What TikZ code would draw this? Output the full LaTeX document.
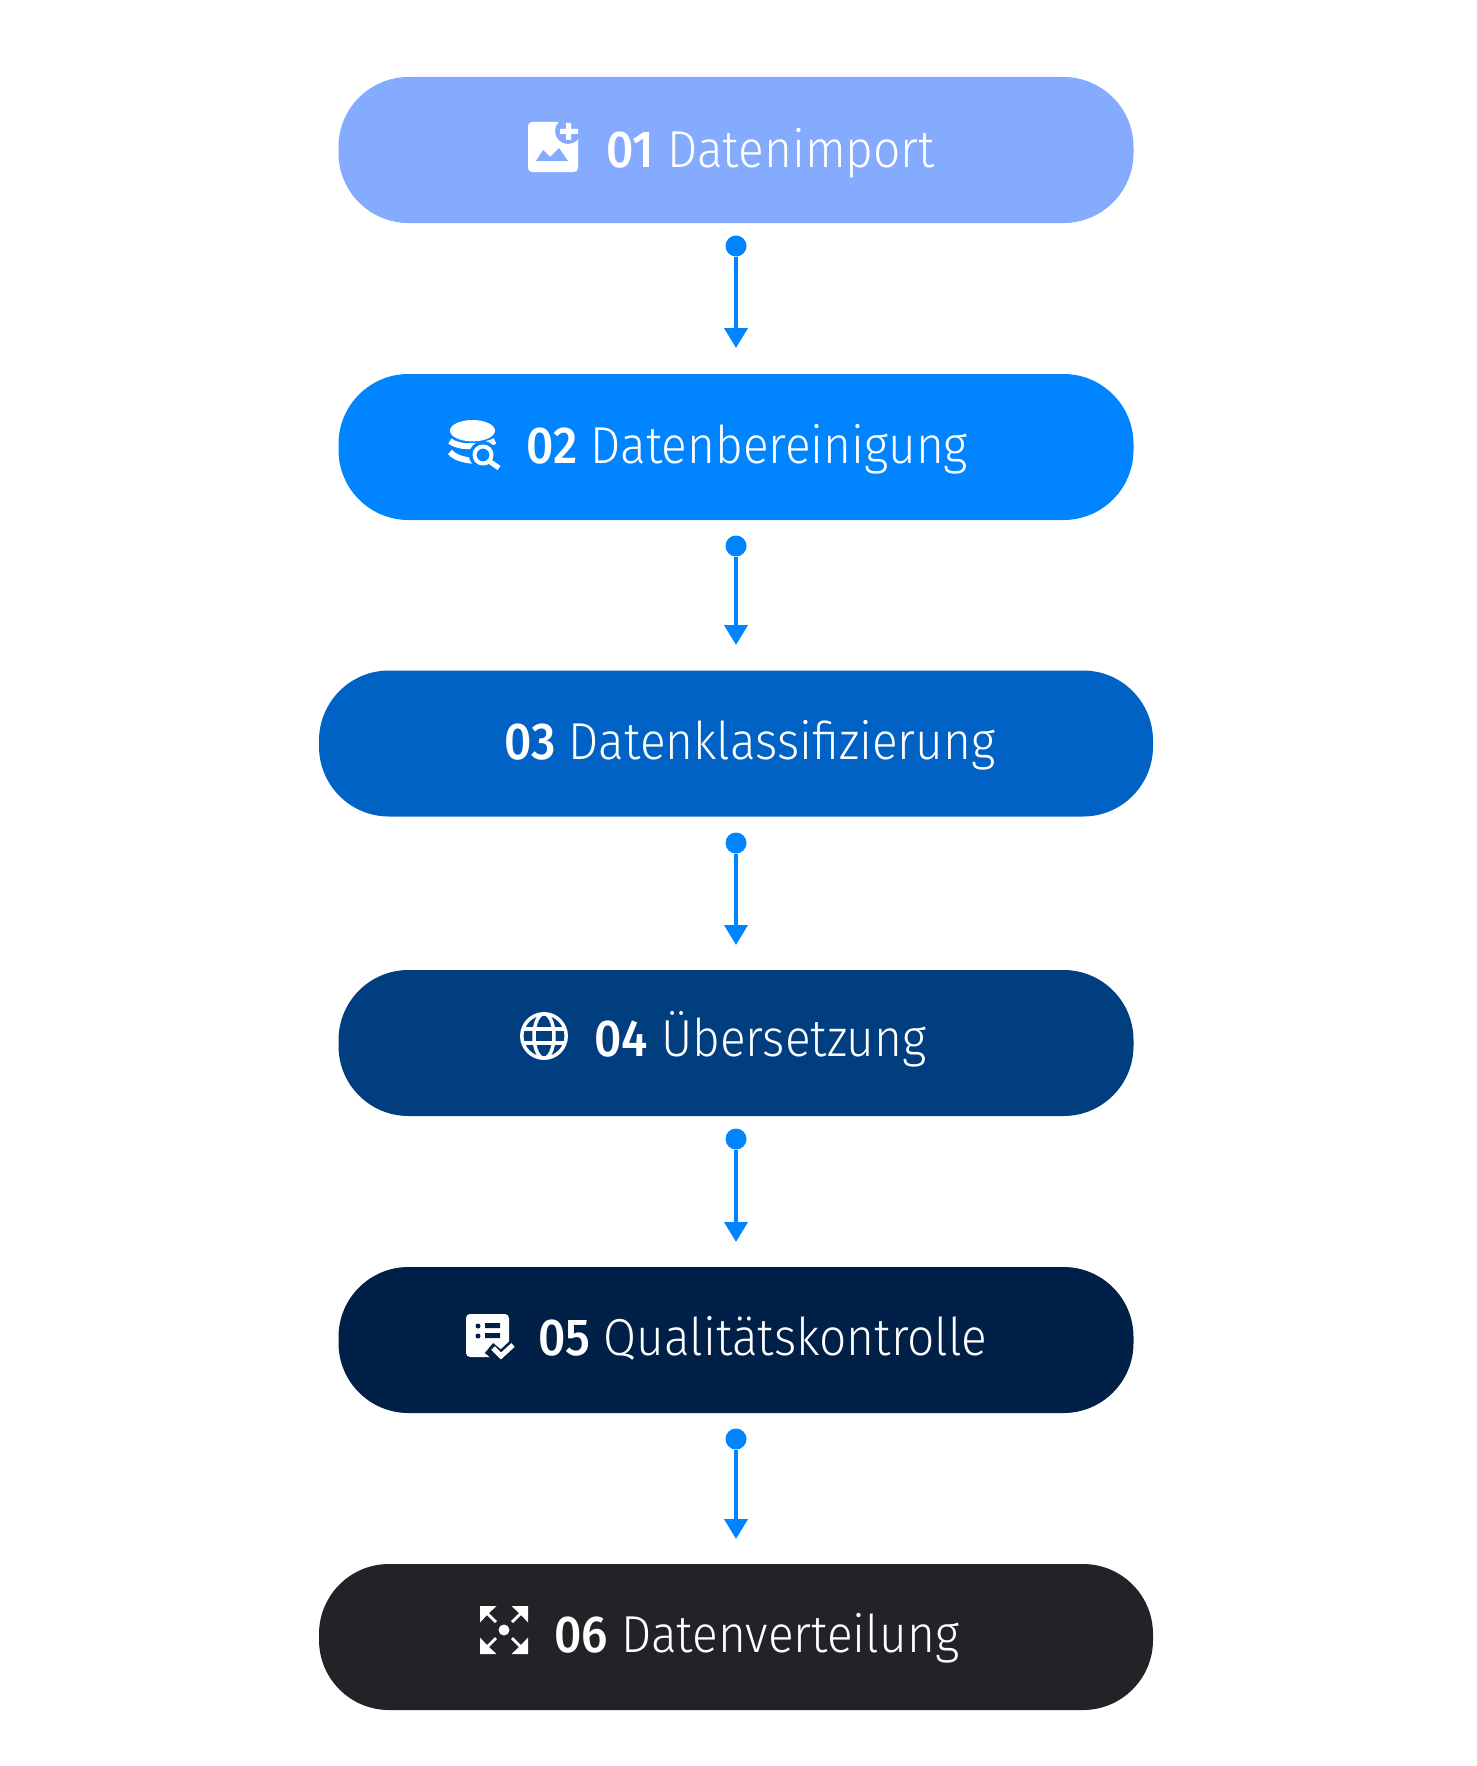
\documentclass[tikz,border=0pt]{standalone}
\usepackage{fontspec}
\setmainfont{Fira Sans}[UprightFont=* Light,BoldFont=* Medium,FakeStretch=.92]
\usetikzlibrary{arrows.meta}
\definecolor{stepA}{HTML}{85ABFF}
\definecolor{stepB}{HTML}{0084FF}
\definecolor{stepC}{HTML}{0062C4}
\definecolor{stepD}{HTML}{003E80}
\definecolor{stepE}{HTML}{002048}
\definecolor{stepF}{HTML}{212326}
\tikzset{
    pillbox/.style={rounded corners=70pt,minimum width=795pt,minimum height=146pt,inner sep=0pt},
    pillwide/.style={pillbox,minimum width=834pt},
    pilltext/.style={anchor=base west,inner sep=0pt,text=white,font=\fontsize{52}{60}\selectfont},
    linkdot/.style={circle,fill=stepB,minimum size=21pt,inner sep=0pt},
    linkline/.style={draw=stepB,line width=4pt,-{Triangle[length=20pt,width=23pt]}},
    pics/iconimage/.style={code={
        \fill[white,rounded corners=4pt] (0,0) rectangle (50,50);
        \fill[#1] (40,9) circle (13);
        \fill[white] (38,1) rectangle (43,18) (32,7) rectangle (50,12);
        \fill[#1] (8,39)--(15,28)--(22,35)--(31,26)--(40,39)--cycle;
    }},
    pics/icondata/.style={code={
        \fill[white] (22.5,10.7) ellipse (22.5 and 10.7);
        \draw[white,line width=6pt] (0,21) .. controls (8,28) and (30,28) .. (45,21);
        \draw[white,line width=6pt] (0,32) .. controls (6,39) and (18,41) .. (30,41);
        \fill[#1] (33,35) circle (14);
        \draw[white,line width=4pt] (33,35) circle (8.5);
        \draw[white,line width=5pt] (39,41)--(49,48);
    }},
    pics/iconglobe/.style={code={
        \begin{scope}[white,line width=3.5pt]
            \draw (24,24) circle (22.2);
            \draw (24,24) ellipse (10 and 22.2);
            \draw (3,17)--(45,17) (3,31)--(45,31);
        \end{scope}
    }},
    pics/iconcheck/.style={code={
        \fill[white,rounded corners=4pt] (0,0) rectangle (43,43);
        \fill[#1] (12,12) circle (2.5) (12,22) circle (2.5);
        \fill[#1] (19,9) rectangle (34,14) (19,19) rectangle (34,24);
        \draw[#1,line width=13pt] (23,34)--(35,44)--(50,30);
        \draw[white,line width=5pt] (27,34)--(35,42)--(47,31);
    }},
    pics/iconspread/.style={code={
        \fill[white] (24,24) circle (5.5);
        \foreach \ang in {0,90,180,270}{
            \begin{scope}[rotate around={\ang:(24,24)}]
                \fill[white] (0,0)--(16.5,0)--(9,7)--(17,15)--(15,17)--(7,9)--(0,16.5)--cycle;
            \end{scope}
        }
    }},
}
\begin{document}
\begin{tikzpicture}[x=1pt,y=-1pt]
    \useasboundingbox (0,0) rectangle (1476,1766);
    \node[pillbox,fill=stepA] (P1) at (736,150) {};
    \node[pillbox,fill=stepB] (P2) at (736,447) {};
    \node[pillwide,fill=stepC] (P3) at (736,743.5) {};
    \node[pillbox,fill=stepD] (P4) at (736,1043) {};
    \node[pillbox,fill=stepE] (P5) at (736,1340) {};
    \node[pillwide,fill=stepF] (P6) at (736,1637) {};
    % icons
    \pic at (528,122) {iconimage=stepA};
    \pic at (450,420) {icondata=stepB};
    \pic at (520,1012) {iconglobe};
    \pic at (466,1314) {iconcheck=stepE};
    \pic at (480,1606) {iconspread};
    % labels
    \node[pilltext] (T1) at (606,167) {\textbf{01} Datenimport};
    \node[pilltext] (T2) at (526,463) {\textbf{02} Datenbereinigung};
    \node[pilltext] (T3) at (504,759) {\textbf{03} Datenklassifizierung};
    \node[pilltext] (T4) at (594,1056) {\textbf{04} Übersetzung};
    \node[pilltext] (T5) at (538,1355) {\textbf{05} Qualitätskontrolle};
    \node[pilltext] (T6) at (554,1652) {\textbf{06} Datenverteilung};
    % links
    \node[linkdot] (D1) at (736,246) {};
    \node[linkdot] (D2) at (736,546) {};
    \node[linkdot] (D3) at (736,843) {};
    \node[linkdot] (D4) at (736,1139) {};
    \node[linkdot] (D5) at (736,1439) {};
    \coordinate (E1) at (736,348);
    \coordinate (E2) at (736,645);
    \coordinate (E3) at (736,945);
    \coordinate (E4) at (736,1242);
    \coordinate (E5) at (736,1539);
    \draw[linkline] (D1)--(E1);
    \draw[linkline] (D2)--(E2);
    \draw[linkline] (D3)--(E3);
    \draw[linkline] (D4)--(E4);
    \draw[linkline] (D5)--(E5);
\end{tikzpicture}
\end{document}
